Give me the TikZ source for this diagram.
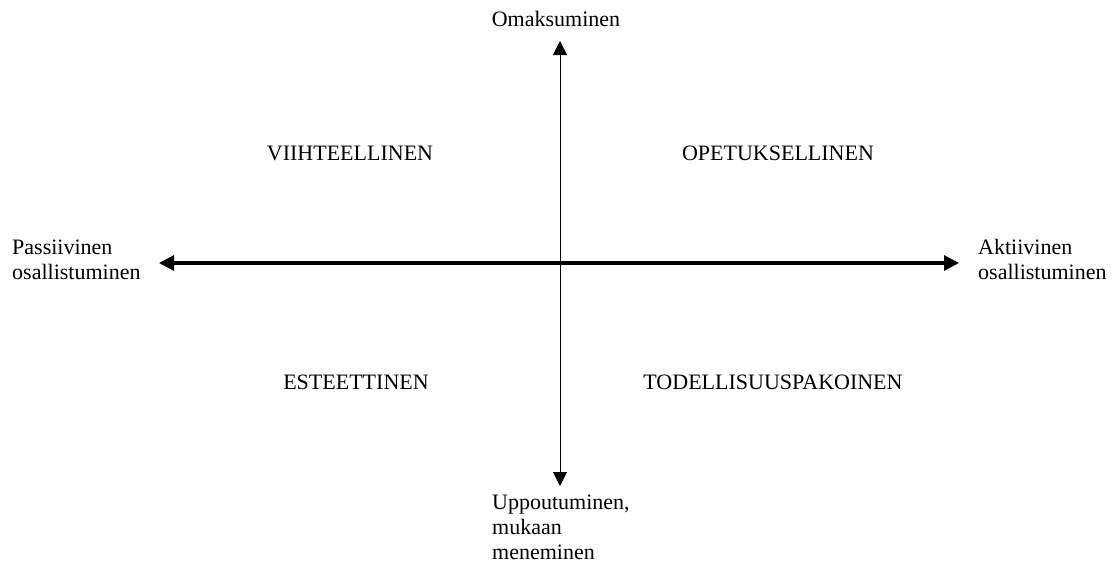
\documentclass[tikz,border=0pt]{standalone}
\usepackage{fontspec}
\setmainfont{Liberation Serif}
\usepackage{tikz}
\usetikzlibrary{arrows.meta}

\begin{document}
\begin{tikzpicture}[x=1pt,y=-1pt,>=Triangle,
    lbl/.style={inner sep=0pt,font=\fontsize{22}{25}\selectfont},
    quad/.style={lbl,anchor=base}]
    \useasboundingbox (0,0) rectangle (1120,562);
    % axis ends
    \coordinate (west) at (159,263);
    \coordinate (east) at (959,263);
    \coordinate (north) at (560,41);
    \coordinate (south) at (560,486);
    \draw[line width=3.2pt,{Triangle[length=15pt,width=15pt]}-{Triangle[length=15pt,width=15pt]}] (west) -- (east);
    \draw[line width=0.9pt,-{Triangle[length=14pt,width=14pt]}] (560,263) -- (north);
    \draw[line width=0.9pt,-{Triangle[length=14pt,width=14pt]}] (560,263) -- (south);
    % axis labels (base = last line)
    \node[lbl,anchor=base] (omak) at (556,26) {Omaksuminen};
    \node[lbl,anchor=base west,align=left] (pass) at (12,279) {Passiivinen\\osallistuminen};
    \node[lbl,anchor=base west,align=left] (akt) at (978,279) {Aktiivinen\\osallistuminen};
    \node[lbl,anchor=base west,align=left] (upp) at (492,559) {Uppoutuminen,\\mukaan\\meneminen};
    % quadrants
    \node[quad] (viih) at (350,160) {VIIHTEELLINEN};
    \node[quad] (opet) at (778,160) {OPETUKSELLINEN};
    \node[quad] (este) at (356,389) {ESTEETTINEN};
    \node[quad] (tode) at (773,389) {TODELLISUUSPAKOINEN};
\end{tikzpicture}
\end{document}
